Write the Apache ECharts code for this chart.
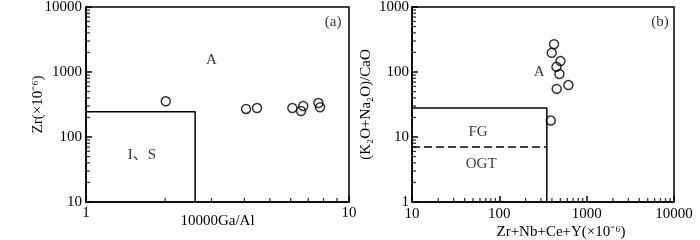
<!DOCTYPE html>
<html>
<head>
<meta charset="utf-8">
<script src="https://cdn.jsdelivr.net/npm/echarts@6/dist/echarts.min.js"></script>
<style>
  html, body { margin: 0; padding: 0; background: #fff; }
  #main { width: 700px; height: 240px; }
</style>
</head>
<body>
<div id="main"></div>
<script>
// (a) 10000Ga/Al vs Zr
var gaAl = [2.01, 4.06, 4.47, 6.09, 6.57, 6.70, 7.65, 7.76];
var zr = [354, 270, 279, 279, 251, 300, 333, 286];
var boxIS = [[1, 245], [2.6, 245], [2.6, 10]];
var textA = ['A', 'I、S', '(a)'];
var textAPos = [[3.0, 1530], [1.63, 53], [8.7, 5800]];

// (b) Zr+Nb+Ce+Y vs (K2O+Na2O)/CaO
var zrSum = [423, 398, 501, 451, 488, 454, 618, 388];
var alkCa = [268, 197, 147, 120, 93, 55, 63, 17.9];
var boxFG = [[10, 28], [350, 28], [350, 1]];
var lineOGT = [[10, 7], [350, 7]];
var textB = ['A', 'FG', 'OGT', '(b)'];
var textBPos = [[285, 100], [57, 12], [62, 3.8], [6900, 580]];

var FONT = '"Liberation Serif", "Times New Roman", "Noto Sans CJK SC", serif';

// minor tick values at 2..9 of each decade
function minors(lo, hi) {
  var out = [];
  for (var d = lo; d < hi; d *= 10) {
    for (var k = 2; k <= 9; k++) out.push(d * k);
  }
  return out;
}

function pts(xs, ys) {
  return xs.map(function (x, i) { return [x, ys[i]]; });
}

function texts(names, pos) {
  return names.map(function (n, i) { return { name: n, value: pos[i] }; });
}

var chart = echarts.init(document.getElementById('main'), null, { renderer: 'canvas' });

function mainAxis(grid, min, max, extra) {
  return Object.assign({
    type: 'log', logBase: 10, gridIndex: grid, min: min, max: max,
    axisLine: { show: true, onZero: false, lineStyle: { color: '#000', width: 1.5 } },
    axisTick: { show: true, inside: true, length: 6, lineStyle: { color: '#000', width: 1.5 } },
    splitLine: { show: false },
    nameMoveOverlap: false,
    nameTextStyle: { color: '#000', fontFamily: FONT, fontSize: 15 }
  }, extra);
}

function lab(margin) {
  return {
    color: '#000', fontFamily: FONT, fontSize: 15, margin: margin,
    formatter: function (v) { return String(v); }
  };
}

// short inward tick marks placed on the axes through the axis scales
function xMinor(axis, vals, y0) {
  return {
    type: 'scatter', xAxisIndex: axis, yAxisIndex: axis, silent: true, clip: false,
    data: vals.map(function (v) { return [v, y0]; }),
    symbol: 'rect', symbolSize: [1.3, 4], symbolOffset: [0, -2],
    itemStyle: { color: '#000' }
  };
}

function yMinor(axis, vals, x0) {
  return {
    type: 'scatter', xAxisIndex: axis, yAxisIndex: axis, silent: true, clip: false,
    data: vals.map(function (v) { return [x0, v]; }),
    symbol: 'rect', symbolSize: [4, 1.3], symbolOffset: [2, 0],
    itemStyle: { color: '#000' }
  };
}

var option = {
  animation: false,
  backgroundColor: '#fff',
  grid: [
    { left: 86, top: 7, width: 263, height: 195, outerBoundsMode: 'none', containLabel: false,
      show: true, borderColor: '#000', borderWidth: 1.5 },
    { left: 412, top: 7, width: 262, height: 195, outerBoundsMode: 'none', containLabel: false,
      show: true, borderColor: '#000', borderWidth: 1.5 }
  ],
  xAxis: [
    mainAxis(0, 1, 10, { position: 'bottom', name: '10000Ga/Al', nameLocation: 'middle', nameGap: 12, axisLabel: lab(4) }),
    mainAxis(1, 10, 10000, { position: 'bottom', name: 'Zr+Nb+Ce+Y(×10⁻⁶)', nameLocation: 'middle', nameGap: 23,
      nameTextStyle: { color: '#000', fontFamily: FONT, fontSize: 15, padding: [0, 0, 0, 36] },
      axisLabel: lab(5) })
  ],
  yAxis: [
    mainAxis(0, 10, 10000, { position: 'left', name: 'Zr(×10⁻⁶)', nameLocation: 'middle', nameGap: 40, axisLabel: lab(4) }),
    mainAxis(1, 1, 1000, { position: 'left', name: '(K₂O+Na₂O)/CaO', nameLocation: 'middle', nameGap: 38, axisLabel: lab(3) })
  ],
  series: [
    xMinor(0, minors(1, 10), 10),
    yMinor(0, minors(10, 10000), 1),
    xMinor(1, minors(10, 10000), 1),
    yMinor(1, minors(1, 1000), 10),
    {
      type: 'line', xAxisIndex: 0, yAxisIndex: 0, data: boxIS, symbol: 'none',
      lineStyle: { color: '#000', width: 1.5 }
    },
    {
      type: 'scatter', xAxisIndex: 0, yAxisIndex: 0, data: pts(gaAl, zr),
      symbol: 'circle', symbolSize: 9,
      itemStyle: { color: 'rgba(0,0,0,0)', borderColor: '#000', borderWidth: 1.5 }
    },
    {
      type: 'scatter', xAxisIndex: 0, yAxisIndex: 0, data: texts(textA, textAPos),
      symbolSize: 0,
      label: { show: true, position: 'inside', formatter: '{b}', color: '#000', fontFamily: FONT, fontSize: 15 }
    },
    {
      type: 'line', xAxisIndex: 1, yAxisIndex: 1, data: boxFG, symbol: 'none',
      lineStyle: { color: '#000', width: 1.5 }
    },
    {
      type: 'line', xAxisIndex: 1, yAxisIndex: 1, data: lineOGT, symbol: 'none',
      lineStyle: { color: '#000', width: 1.5, type: [8, 4] }
    },
    {
      type: 'scatter', xAxisIndex: 1, yAxisIndex: 1, data: pts(zrSum, alkCa),
      symbol: 'circle', symbolSize: 9,
      itemStyle: { color: 'rgba(0,0,0,0)', borderColor: '#000', borderWidth: 1.5 }
    },
    {
      type: 'scatter', xAxisIndex: 1, yAxisIndex: 1, data: texts(textB, textBPos),
      symbolSize: 0,
      label: { show: true, position: 'inside', formatter: '{b}', color: '#000', fontFamily: FONT, fontSize: 15 }
    }
  ]
};

chart.setOption(option);
</script>
</body>
</html>
